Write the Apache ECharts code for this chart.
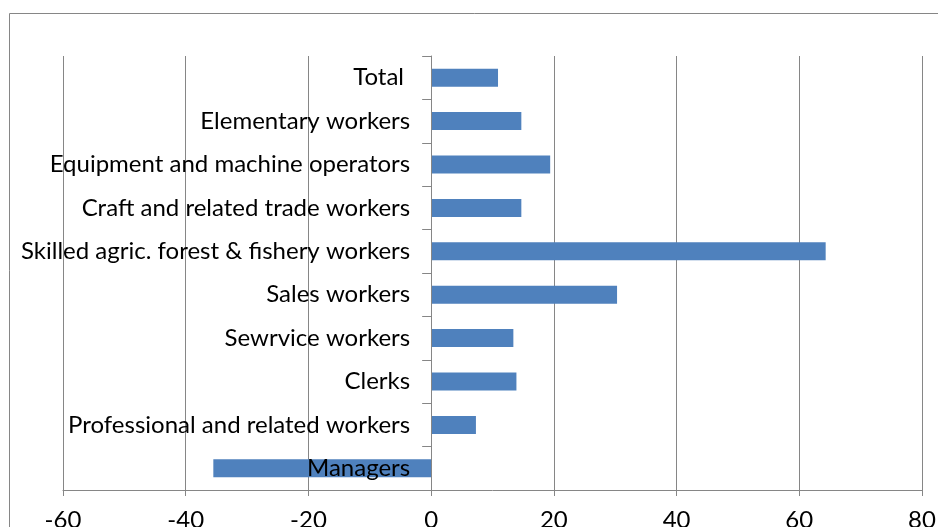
<!DOCTYPE html>
<html><head><meta charset="utf-8">
<script src="https://cdn.jsdelivr.net/npm/echarts@6/dist/echarts.min.js"></script>
<style>html,body{margin:0;padding:0;background:#fff}#c{width:938px;height:527px}</style>
</head><body><div id="c"></div>
<script>
var categories = ["Managers","Professional and related workers","Clerks","Sewrvice workers","Sales workers","Skilled agric. forest & fishery workers","Craft and related trade workers","Equipment and machine operators","Elementary workers","Total "];
var values = [-35.5, 7.3, 13.9, 13.4, 30.3, 64.3, 14.7, 19.4, 14.7, 10.9];
var xTicks = [-60, -40, -20, 0, 20, 40, 60, 80];

var gridLeft = 63, gridRight = 16, width = 938;
var xMin = xTicks[0], xMax = xTicks[xTicks.length-1];
// shift the category axis onto the zero line (lines, ticks and labels together)
var zeroOffset = -(width - gridLeft - gridRight) * (0 - xMin) / (xMax - xMin);

var chart = echarts.init(document.getElementById('c'));
var font = 'Lato';
chart.setOption({
  animation: false,
  grid: {left: gridLeft, right: gridRight, top: 56, bottom: 37, containLabel: false, outerBoundsMode: 'none'},
  graphic: [{type: 'rect', shape: {x: 9.5, y: 13.5, width: 1000, height: 1000}, style: {fill: 'none', stroke: '#868686', lineWidth: 1}, z: -1}],
  xAxis: {
    type: 'value', min: xMin, max: xMax, interval: 20,
    axisLine: {show: true, onZero: false, lineStyle: {color: '#868686'}},
    axisTick: {show: true, length: 6, lineStyle: {color: '#868686'}},
    splitLine: {show: true, lineStyle: {color: '#868686', width: 1}},
    axisLabel: {color: '#000', fontFamily: font, fontSize: 24, margin: 18}
  },
  yAxis: {
    type: 'category', data: categories, z: 10, offset: zeroOffset,
    axisLine: {show: true, onZero: false, lineStyle: {color: '#868686'}},
    axisTick: {show: true, length: 9, alignWithLabel: false, lineStyle: {color: '#868686'}},
    axisLabel: {color: '#000', fontFamily: font, fontSize: 24, margin: 21}
  },
  series: [{type: 'bar', data: values, barWidth: 18, itemStyle: {color: '#4F81BD'}}]
});
</script></body></html>
